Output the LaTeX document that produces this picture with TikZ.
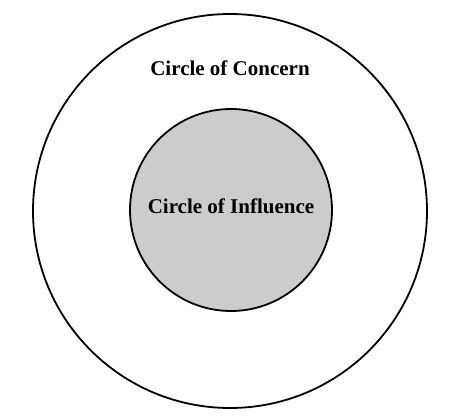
\documentclass[tikz,border=0pt]{standalone}
\usepackage{fontspec}
\setmainfont{Liberation Serif}
\begin{document}
\begin{tikzpicture}[x=1pt,y=1pt,
  ring/.style={circle,draw=black,line width=1.8pt,inner sep=0pt},
  label/.style={font=\fontsize{21}{23}\selectfont\bfseries,inner sep=0pt}]
\useasboundingbox (0,0) rectangle (468,418);
\node[ring,minimum size=394pt] (concern) at (230,207) {};
\node[ring,fill=black!20,minimum size=202pt] (influence) at (231,208) {};
\node[label] (tconcern) at (230,350) {Circle of Concern};
\node[label] (tinfluence) at (231,212) {Circle of Influence};
\end{tikzpicture}
\end{document}
